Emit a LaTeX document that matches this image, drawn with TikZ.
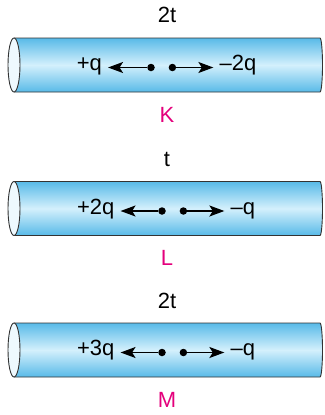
\documentclass[tikz,border=0pt]{standalone}
\usepackage{fontspec}
\setmainfont{Liberation Sans}
\usetikzlibrary{arrows.meta, positioning}
\definecolor{tubeb}{RGB}{88, 186, 232}
\definecolor{tubel}{RGB}{212, 240, 252}
\definecolor{mym}{RGB}{228, 0, 124}

\begin{document}
\begin{tikzpicture}[x=1pt, y=1pt,
		chg/.style={font=\fontsize{22}{22}\selectfont, inner xsep=6pt, inner ysep=0pt,
			text height=0.66em, text depth=0pt},
		ttl/.style={font=\fontsize{22}{22}\selectfont, anchor=base},
		lbl/.style={font=\fontsize{22}{22}\selectfont, anchor=base, text=mym},
		dot/.style={circle, fill, inner sep=0pt, minimum size=7.5pt},
		force/.style={-{Stealth[length=15pt, width=11pt, inset=3.5pt]}, line width=1.6pt},
		]
		\useasboundingbox (0,0) rectangle (324,-415);
		\fill[white] (0,0) rectangle (324,-415);
		\foreach \cy/\tm/\lb/\lq/\rq/\xa/\ga in {-65/2t/K/+q/--2q/151/39, -208.5/t/L/+2q/--q/162/37.5, -350/2t/M/+3q/--q/162/37.5}{
			% tube body
			\shade[top color=tubeb, bottom color=tubeb, middle color=tubel]
				(14,\cy+27) -- (320,\cy+27) arc[start angle=90, end angle=-90, x radius=2.5, y radius=27]
				-- (14,\cy-27) arc[start angle=270, end angle=90, x radius=6, y radius=27] -- cycle;
			\draw[line width=0.9pt, black!80]
				(14,\cy+27) -- (320,\cy+27) arc[start angle=90, end angle=-90, x radius=2.5, y radius=27]
				-- (14,\cy-27);
			\draw[line width=0.9pt, black!80, fill=tubel!40!white] (14,\cy) ellipse[x radius=6, y radius=27];
			% labels
			\node[ttl] (t\lb) at (167,\cy+42) {\tm};
			\node[lbl] (n\lb) at (167,\cy-57) {\lb};
			% charges
			\node[dot] (dl\lb) at (\xa,\cy-2.5) {};
			\node[dot, right=13.5pt of dl\lb] (dr\lb) {};
			\node[chg, left=\ga pt of dl\lb] (ql\lb) {\lq};
			\node[chg, right=37pt of dr\lb] (qr\lb) {\rq};
			\draw[force] (dl\lb) -- (ql\lb);
			\draw[force] (dr\lb) -- (qr\lb);
		}
\end{tikzpicture}
\end{document}
